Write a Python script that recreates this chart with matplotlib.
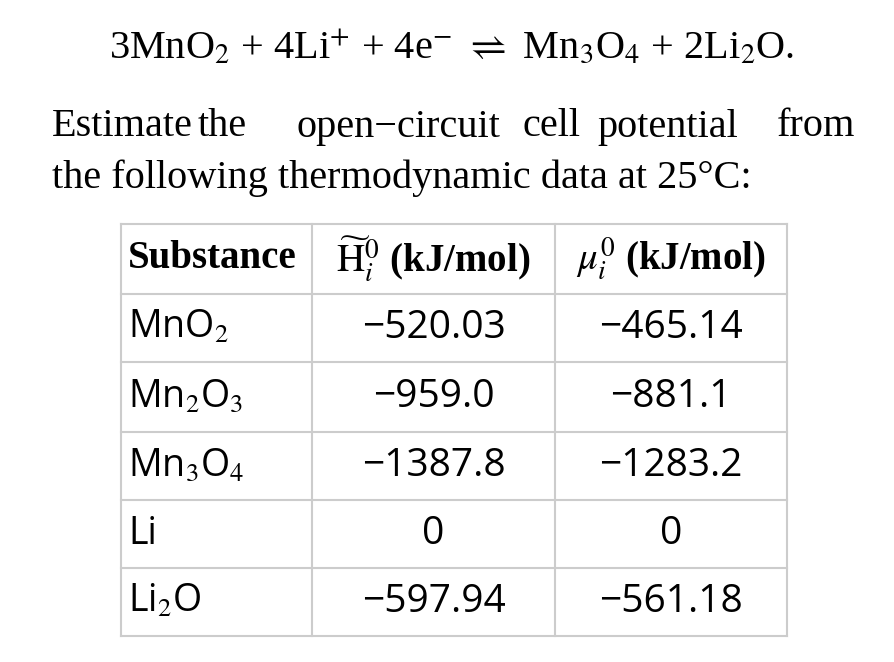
import matplotlib.pyplot as plt

plt.rcParams['mathtext.fontset'] = 'stix'

substances = [r'MnO$_2$', r'Mn$_2$O$_3$', r'Mn$_3$O$_4$', 'Li', r'Li$_2$O']
enthalpy = ['\u2212520.03', '\u2212959.0', '\u22121387.8', '0', '\u2212597.94']
chem_pot = ['\u2212465.14', '\u2212881.1', '\u22121283.2', '0', '\u2212561.18']
headers = ['Substance', r'$\widetilde{\mathrm{H}}_i^0$ (kJ/mol)', r'$\mu_i^0$ (kJ/mol)']

W, H = 894, 662
fig = plt.figure(figsize=(W / 100, H / 100), dpi=100)
ax = fig.add_axes([0, 0, 1, 1])
ax.set_xlim(0, W)
ax.set_ylim(H, 0)
ax.axis('off')

serif = 'Liberation Serif'
sans = 'Open Sans'

ax.text(452, 48, r'3MnO$_2$ + 4Li$^{+}$ + 4e$^{-}$ $\rightleftharpoons$ Mn$_3$O$_4$ + 2Li$_2$O.',
        ha='center', va='center', fontsize=29, family=serif)

# justified first line
words = ['Estimate', 'the', 'open\u2212circuit', 'cell', 'potential']
xs = [52, 198, 297, 523, 597]
for w, x in zip(words, xs):
    ax.text(x, 127, w, ha='left', va='center', fontsize=29, family=serif)
ax.text(855, 127, 'from', ha='right', va='center', fontsize=29, family=serif)
ax.text(52, 178, 'the following thermodynamic data at 25\u00b0C:', ha='left', va='center',
        fontsize=29, family=serif)

# table grid
rows_y = [224, 294, 362, 432, 500, 568, 636]
cols_x = [121, 312, 555, 787]
for y in rows_y:
    ax.plot([cols_x[0], cols_x[-1]], [y, y], color='#cccccc', lw=1.5)
for x in cols_x:
    ax.plot([x, x], [rows_y[0], rows_y[-1]], color='#cccccc', lw=1.5)

hy = (rows_y[0] + rows_y[1]) / 2
ax.text(128, hy, headers[0], ha='left', va='center', fontsize=28, family=serif, weight='bold')
for j, h in enumerate(headers[1:]):
    cx = (cols_x[j + 1] + cols_x[j + 2]) / 2
    ax.text(cx, hy, h, ha='center', va='center', fontsize=28, family=serif, weight='bold')

for i, (s, a, b) in enumerate(zip(substances, enthalpy, chem_pot)):
    y = (rows_y[i + 1] + rows_y[i + 2]) / 2
    ax.text(128, y, s, ha='left', va='center', fontsize=27, family=sans)
    ax.text((cols_x[1] + cols_x[2]) / 2, y, a, ha='center', va='center', fontsize=28, family=sans)
    ax.text((cols_x[2] + cols_x[3]) / 2, y, b, ha='center', va='center', fontsize=28, family=sans)

fig.savefig('out.png', dpi=100)
